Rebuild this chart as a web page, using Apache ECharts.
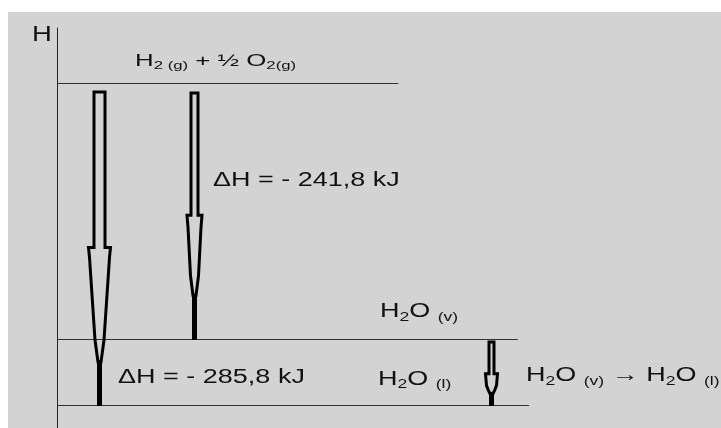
<!DOCTYPE html>
<html>
<head>
<meta charset="utf-8">
<script src="https://cdn.jsdelivr.net/npm/echarts@6/dist/echarts.min.js"></script>
<style>
html,body{margin:0;padding:0;background:#fff;}
#c{width:721px;height:428px;
 background:linear-gradient(to right,#fff 8px,transparent 8px),linear-gradient(to bottom,#fff 12px,#d3d3d3 12px);}
</style>
</head>
<body>
<div id="c"></div>
<script>
// ---------------- data ----------------
// Enthalpy levels (kJ, relative to H2 + 1/2 O2)
const levelNames = ['H_{2 (g)} + ½ O_{2(g)}', 'H_{2}O _{(v)}', 'H_{2}O _{(l)}'];
const levelEnthalpy = [0, -241.8, -285.8];
// The diagram is schematic (not to scale): heights as drawn, in % of the total drop
const levelDrawnHeight = [0, -79.5, -100];
// Transitions drawn as arrows (from level -> to level)
const transitionFrom = [0, 0, 1];
const transitionTo = [2, 1, 2];
const transitionCaption = ['', '', 'H_{2}O _{(v)} → H_{2}O _{(l)}'];
const axisName = 'H';

// ---------------- layout / style ----------------
const FONT = '"Liberation Sans", Arial, sans-serif';
const levelEndX = [51.4, 69.4, 71.1];
const arrowStyle = {
  x: [6.3, 20.6, 65.4],
  topGap: [9, 10, 3],
  shaftW: [14, 10, 8],
  headW: [25, 18, 15],
  shoulderH: [10, 12, 12],
  midFrac: [0.79, 0.74, 0.76],
  midW: [12, 11, 9],
  tipFrac: [0.86, 0.82, 0.81],
  stemW: [5, 5, 5]
};
// label anchor positions (axis units), font sizes and horizontal stretch
const labelLayout = {
  axisName: {pos: [-3.77, 14.83], size: 22, scale: 1.25},
  level: {pos: [[11.75, 6.77], [48.64, -70.89], [48.34, -91.81]], size: [17, 20, 20], scale: [1.52, 1.35, 1.35]},
  dH: {pos: [[9.19, -91.19], [23.49, -30.27], null], size: 20, scale: 1.35},
  caption: {pos: [null, null, [70.63, -90.73]], size: 20, scale: 1.35}
};

function fmtDH(v) {
  const s = Math.abs(v).toFixed(1).replace('.', ',');
  return 'ΔH = ' + (v < 0 ? '- ' : '') + s + ' kJ';
}
function toRich(t) {
  // converts "H_{2}O" into rich text tokens
  let out = '';
  const re = /_\{([^}]*)\}/g;
  let last = 0, m;
  while ((m = re.exec(t)) !== null) {
    if (m.index > last) out += '{n|' + t.slice(last, m.index) + '}';
    out += '{s|' + m[1] + '}';
    last = re.lastIndex;
  }
  if (last < t.length) out += '{n|' + t.slice(last) + '}';
  return out;
}

// build label list
const labels = [];
labels.push({text: '{n|' + axisName + '}', pos: labelLayout.axisName.pos, size: labelLayout.axisName.size, scale: labelLayout.axisName.scale});
levelNames.forEach((n, i) => labels.push({text: toRich(n), pos: labelLayout.level.pos[i], size: labelLayout.level.size[i], scale: labelLayout.level.scale[i]}));
transitionFrom.forEach((f, i) => {
  const dH = levelEnthalpy[transitionTo[i]] - levelEnthalpy[f];
  if (labelLayout.dH.pos[i]) labels.push({text: '{n|' + fmtDH(dH) + '}', pos: labelLayout.dH.pos[i], size: labelLayout.dH.size, scale: labelLayout.dH.scale});
  if (transitionCaption[i]) labels.push({text: toRich(transitionCaption[i]), pos: labelLayout.caption.pos[i], size: labelLayout.caption.size, scale: labelLayout.caption.scale});
});

const chart = echarts.init(document.getElementById('c'), null, {renderer: 'canvas'});

const option = {
  backgroundColor: 'transparent',
  animation: false,
  grid: {left: 57, right: 0, top: 28, bottom: 0, outerBoundsMode: 'none', containLabel: false},
  xAxis: {type: 'value', min: 0, max: 100, show: false},
  yAxis: {
    type: 'value', min: -107, max: 17,
    axisLine: {show: true, onZero: false, lineStyle: {color: '#222', width: 1}},
    axisTick: {show: false}, axisLabel: {show: false}, splitLine: {show: false}
  },
  series: [
    {
      type: 'custom', name: 'levels', silent: true, clip: false,
      data: levelDrawnHeight.map((h, i) => [i, h]),
      renderItem: function (params, api) {
        const i = params.dataIndex;
        const h = api.value(1);
        const p0 = api.coord([0, h]);
        const p1 = api.coord([levelEndX[i], h]);
        const y = Math.round(p0[1]) + 0.5;
        return {type: 'line', shape: {x1: p0[0], y1: y, x2: p1[0], y2: y},
          style: {stroke: '#333', lineWidth: 1}};
      }
    },
    {
      type: 'custom', name: 'arrows', silent: true, clip: false, z: 3,
      data: transitionFrom.map((f, i) => [i, levelDrawnHeight[f], levelDrawnHeight[transitionTo[i]]]),
      renderItem: function (params, api) {
        const i = params.dataIndex;
        const x = arrowStyle.x[i];
        const pT = api.coord([x, api.value(1)]);
        const pB = api.coord([x, api.value(2)]);
        const cx = Math.round(pT[0]) + 0.5;
        const y0 = Math.round(pT[1]) + arrowStyle.topGap[i];
        const yB = Math.round(pB[1]) + 1;
        const L = yB - y0;
        const a = arrowStyle.shaftW[i] / 2 - 1.5;
        const b = arrowStyle.headW[i] / 2 - 1.5;
        const m = arrowStyle.midW[i] / 2 - 1.5;
        const y1 = y0 + 0.495 * L;
        const y2 = y1 + arrowStyle.shoulderH[i];
        const ym = y0 + arrowStyle.midFrac[i] * L;
        const y3 = y0 + arrowStyle.tipFrac[i] * L;
        const c = 1.5;
        const pts = [[cx - a, y0], [cx + a, y0], [cx + a, y1], [cx + b, y1], [cx + b - 1, y2], [cx + m, ym], [cx + c, y3],
          [cx - c, y3], [cx - m, ym], [cx - b + 1, y2], [cx - b, y1], [cx - a, y1]];
        const sw = arrowStyle.stemW[i];
        return {type: 'group', children: [
          {type: 'polygon', shape: {points: pts}, style: {fill: 'none', stroke: '#000', lineWidth: 3, lineJoin: 'miter'}},
          {type: 'rect', shape: {x: cx - sw / 2, y: y3 - 2, width: sw, height: yB - y3 + 2}, style: {fill: '#000'}}
        ]};
      }
    },
    {
      type: 'custom', name: 'labels', silent: true, clip: false, z: 4,
      data: labels.map((l, i) => [l.pos[0], l.pos[1], i]),
      renderItem: function (params, api) {
        const l = labels[params.dataIndex];
        const p = api.coord([api.value(0), api.value(1)]);
        const fs = l.size;
        const ss = Math.round(fs * 0.63);
        return {
          type: 'text', x: p[0], y: p[1], scaleX: l.scale, scaleY: 1,
          style: {
            text: l.text, align: 'left', verticalAlign: 'middle', fill: '#111',
            fontFamily: FONT, fontSize: fs,
            rich: {
              n: {fontFamily: FONT, fontSize: fs, fill: '#111'},
              s: {fontFamily: FONT, fontSize: ss, fill: '#111', padding: [Math.round(fs * 0.55), 0, 0, 0]}
            }
          }
        };
      }
    }
  ]
};
chart.setOption(option);
</script>
</body>
</html>
